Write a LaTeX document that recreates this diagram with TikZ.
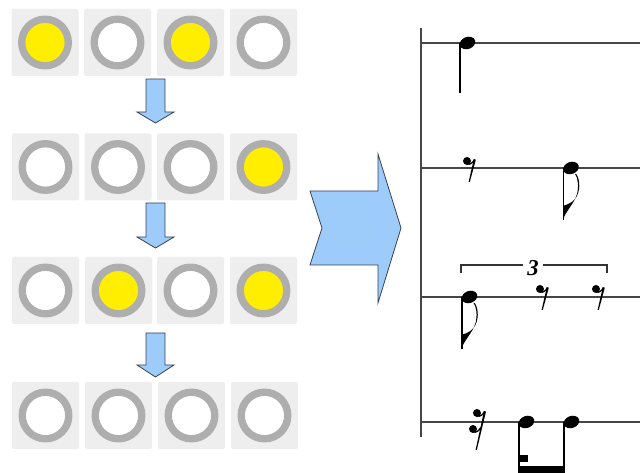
\documentclass[tikz,border=0pt]{standalone}
\usepackage{fontspec}
\newfontfamily\tupletfont{Liberation Serif}
\definecolor{cellbg}{RGB}{238,238,238}
\definecolor{ringgray}{RGB}{174,174,174}
\definecolor{lamp}{RGB}{255,238,0}
\definecolor{arrowfill}{RGB}{158,204,250}
\definecolor{arrowline}{RGB}{55,65,85}
\definecolor{staffgray}{RGB}{70,70,70}

\tikzset{
  cell/.style={fill=cellbg, rounded corners=1.5pt, minimum size=50.25pt, inner sep=0pt, draw=none},
  ring/.style={draw=ringgray, line width=5.5pt},
  blockarrow/.style={fill=arrowfill, draw=arrowline, line width=0.6pt, line join=miter},
  staffline/.style={draw=staffgray, line width=1.1pt},
  stemline/.style={draw=black, line width=1pt},
  bracketline/.style={draw=black!80, line width=0.8pt},
  notehead/.pic={\fill[black, rotate=20] (0,0) ellipse (8 and 6);},
  quarterdown/.pic={
    \draw[stemline] (-7.5,0) -- (-7.5,50);
    \fill[black, rotate=20] (0,0) ellipse (8 and 6);
  },
  eighthdown/.pic={
    \draw[stemline] (-7.5,0) -- (-7.5,52);
    \fill[black] (-8,52) .. controls (-6,44) and (3,36) .. (6,26)
      .. controls (8,18) and (7,10) .. (4,6) -- (5.2,6)
      .. controls (9.5,12) and (9.5,24) .. (4,31)
      .. controls (0,36) and (-6,37) .. (-8,38) -- cycle;
    \fill[black, rotate=20] (0,0) ellipse (8 and 6);
  },
  eighthrest/.pic={
    \fill[black] (0,0) circle (4);
    \draw[black, line width=1pt] (0.5,3) .. controls (3,3.8) and (6,1.8) .. (7.5,-1.5);
    \fill[black] (6.8,-1.8) -- (8.8,-1.2) -- (2.8,21) -- (1.6,21) -- cycle;
  },
  sixteenthrest/.pic={
    \fill[black] (0,0) circle (4);
    \fill[black] (-4,16) circle (4);
    \draw[black, line width=1pt] (0.5,3) .. controls (3,3.8) and (6,1.8) .. (7.5,-1.5);
    \draw[black, line width=1pt] (-3.5,19) .. controls (-1,19.8) and (2,17.8) .. (3.8,14.5);
    \fill[black] (7,-2) -- (9,-1.4) -- (-0.2,37) -- (-1.4,37) -- cycle;
  },
}

% one lamp cell: name, centre x, centre y, lamp colour
\newcommand\lampcell[4]{%
  \node[cell] (#1) at (#2,#3) {};
  \fill[#4] (#1.center) circle (20);
  \draw[ring] (#1.center) circle (23.3);
}
% downward block arrow: top of shaft, wing line, tip
\newcommand\downblock[3]{%
  \filldraw[blockarrow] (146,#1) -- (165,#1) -- (165,#2) -- (174,#2)
    -- (155.5,#3) -- (137,#2) -- (146,#2) -- cycle;
}

\begin{document}
\begin{tikzpicture}[x=0.75pt, y=-0.75pt]
\useasboundingbox (0,0) rectangle (640,473);
\fill[white] (0,0) rectangle (640,473);

% lamp states, one row per step
\lampcell{a1}{45}{42.5}{lamp}
\lampcell{a2}{117.5}{42.5}{white}
\lampcell{a3}{190.5}{42.5}{lamp}
\lampcell{a4}{263.5}{42.5}{white}

\lampcell{b1}{45.5}{167}{white}
\lampcell{b2}{118}{167}{white}
\lampcell{b3}{190.5}{167}{white}
\lampcell{b4}{263.5}{167}{lamp}

\lampcell{c1}{45.5}{290.5}{white}
\lampcell{c2}{118.5}{290.5}{lamp}
\lampcell{c3}{190.5}{290.5}{white}
\lampcell{c4}{263.5}{290.5}{lamp}

\lampcell{d1}{45.5}{415.5}{white}
\lampcell{d2}{118.5}{415.5}{white}
\lampcell{d3}{191.5}{415.5}{white}
\lampcell{d4}{264.5}{415.5}{white}

% arrows between the steps
\downblock{79}{112}{123}
\downblock{203}{237}{248}
\downblock{333}{365}{377}

% big arrow towards the notation
\filldraw[blockarrow] (310,191) -- (378,191) -- (378,154) -- (401,228)
  -- (378,303) -- (378,265) -- (310,265) -- (322,228) -- cycle;

% staff lines and barline
\draw[staffline] (421,28) -- (421,437);
\foreach \yy in {43,168,297,422}
  \draw[staffline] (421,\yy) -- (640,\yy);

% first line: a quarter note
\pic at (467.5,43) {quarterdown};

% second line: eighth rest, eighth note
\pic at (467,161) {eighthrest};
\pic at (571,168) {eighthdown};

% third line: triplet of eighths
\pic at (469.5,297) {eighthdown};
\pic at (540,289) {eighthrest};
\pic at (596,289) {eighthrest};
\draw[bracketline] (461,273) -- (461,265) -- (523,265);
\draw[bracketline] (543,265) -- (607,265) -- (607,273);
\node[inner sep=0pt, font=\tupletfont\fontsize{17}{17}\selectfont\bfseries\itshape] (tuplet) at (533,268.5) {3};

% fourth line: sixteenth rest and beamed sixteenth/eighth
\pic at (477,413) {sixteenthrest};
\pic at (526.5,422) {notehead};
\pic at (571.5,422) {notehead};
\draw[stemline] (519,422) -- (519,473);
\draw[stemline] (564,422) -- (564,473);
\fill[black] (518.5,466) rectangle (564.5,473);
\fill[black] (518.5,455) rectangle (528,462);
\end{tikzpicture}
\end{document}
